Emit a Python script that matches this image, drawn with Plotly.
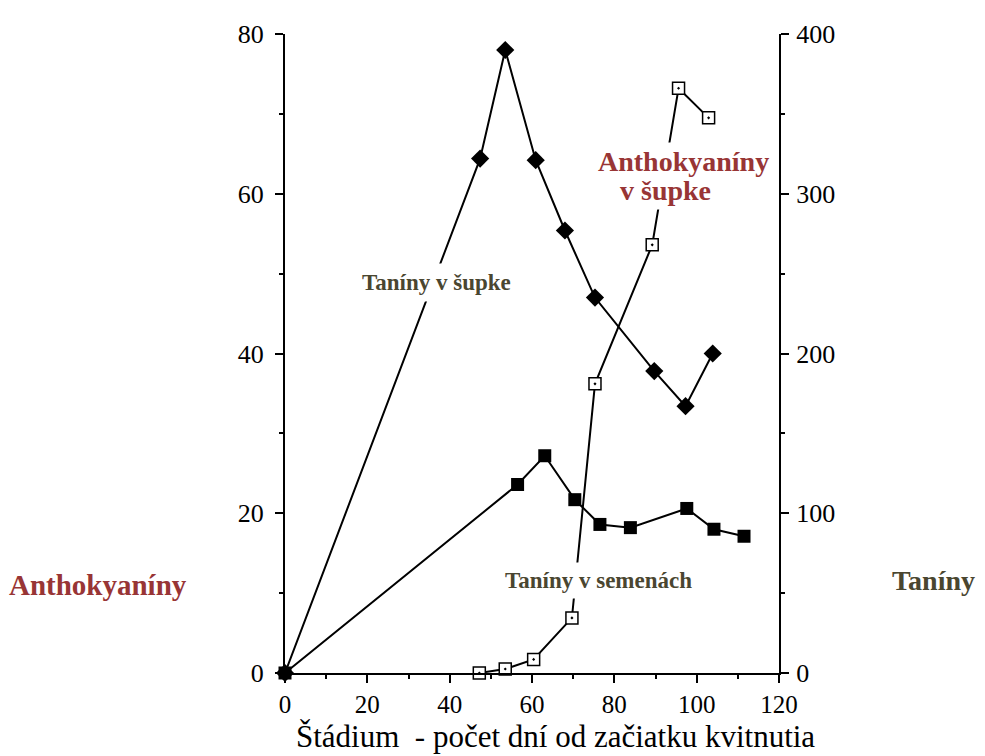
import plotly.graph_objects as go

# Taníny v šupke (right axis)
skin_tan_x = [0, 47.4, 53.5, 60.9, 68.0, 75.3, 89.7, 97.3, 103.9]
skin_tan_y = [0, 322, 390, 321, 277, 235, 189, 167, 200]

# Taníny v semenách (right axis)
seed_tan_x = [0, 56.5, 63.1, 70.4, 76.5, 83.9, 97.6, 104.2, 111.5]
seed_tan_y = [0, 118, 136, 108.5, 93, 91, 103, 90, 85.6]

# Anthokyaníny v šupke (left axis)
anth_x = [47.2, 53.5, 60.4, 69.7, 75.3, 89.2, 95.6, 102.9]
anth_y = [0, 0.5, 1.7, 6.9, 36.2, 53.6, 73.2, 69.5]

x_ticks = [0, 20, 40, 60, 80, 100, 120]
left_ticks = [0, 20, 40, 60, 80]
right_ticks = [0, 100, 200, 300, 400]

SERIF = "Liberation Serif"
RED = "#983535"
OLIVE = "#4a4630"

# page body has an 8px margin
OFF = 8
L, R, T, B = 285 - OFF, 206 + OFF, 28 - OFF, 83 + OFF
W, H = 985, 756

fig = go.Figure()
fig.add_trace(go.Scatter(
    x=skin_tan_x, y=skin_tan_y, yaxis="y2", mode="lines+markers",
    line=dict(color="black", width=2),
    marker=dict(symbol="diamond", size=14, color="black"),
    cliponaxis=False, showlegend=False))
fig.add_trace(go.Scatter(
    x=seed_tan_x, y=seed_tan_y, yaxis="y2", mode="lines+markers",
    line=dict(color="black", width=2),
    marker=dict(symbol="square", size=13, color="black"),
    cliponaxis=False, showlegend=False))
fig.add_trace(go.Scatter(
    x=anth_x, y=anth_y, mode="lines+markers",
    line=dict(color="black", width=2),
    marker=dict(symbol="square-dot", size=12, color="white",
                line=dict(color="black", width=1.5)),
    cliponaxis=False, showlegend=False))

tickfont = dict(family=SERIF, size=26, color="black")
fig.update_layout(
    width=W, height=H,
    margin=dict(l=L, r=R, t=T, b=B),
    plot_bgcolor="white", paper_bgcolor="white",
    xaxis=dict(range=[0, 120], tickvals=x_ticks, showgrid=False, zeroline=False,
               showline=True, linecolor="black", linewidth=2,
               ticks="outside", ticklen=8, tickwidth=2, tickcolor="black",
               minor=dict(dtick=10, tick0=0, ticks="outside", ticklen=4, tickwidth=2, tickcolor="black"),
               tickfont=dict(family=SERIF, size=25, color="black"), ticklabelstandoff=0),
    yaxis=dict(range=[0, 80], tickvals=left_ticks, showgrid=False, zeroline=False,
               showline=True, linecolor="black", linewidth=2,
               ticks="outside", ticklen=8, tickwidth=2, tickcolor="black",
               minor=dict(dtick=10, tick0=0, ticks="outside", ticklen=4, tickwidth=2, tickcolor="black"),
               tickfont=tickfont, ticklabelstandoff=6),
    yaxis2=dict(range=[0, 400], tickvals=right_ticks, overlaying="y", side="right",
                showgrid=False, zeroline=False,
                showline=True, linecolor="black", linewidth=2,
                ticks="outside", ticklen=8, tickwidth=2, tickcolor="black",
                minor=dict(dtick=50, tick0=0, ticks="outside", ticklen=4, tickwidth=2, tickcolor="black"),
                tickfont=tickfont, ticklabelstandoff=2),
)

def fnt(c, s):
    return dict(family=SERIF, size=s, color=c)

pw, ph = W - L - R, H - T - B
def paper(px, py):
    return (px - OFF - L) / pw, (H - B - (py - OFF)) / ph

def label(px, py, text, color, size, bg=True, pad=3, xanchor="center"):
    ax, ay = paper(px, py)
    fig.add_annotation(x=ax, y=ay, xref="paper", yref="paper", text=text,
                       xanchor=xanchor, yanchor="middle", showarrow=False,
                       bgcolor="white" if bg else None, font=fnt(color, size), borderpad=pad)

label(436, 279, "<b>Taníny v šupke</b>", OLIVE, 23, pad=6)
label(598, 580, "<b>Taníny v semenách</b>", OLIVE, 23, pad=5)
label(665, 186, "<b>v šupke</b>", RED, 28, pad=3)
label(683, 157, "<b>Anthokyaníny</b>", RED, 28, pad=3)
label(98, 584, "<b>Anthokyaníny</b>", RED, 29, bg=False)
label(976, 580, "<b>Taníny</b>", OLIVE, 28, bg=False, xanchor="right", pad=0)
label(555, 737, "Štádium  - počet dní od začiatku kvitnutia", "black", 31, bg=False, pad=0)

fig.write_html("out.html")
